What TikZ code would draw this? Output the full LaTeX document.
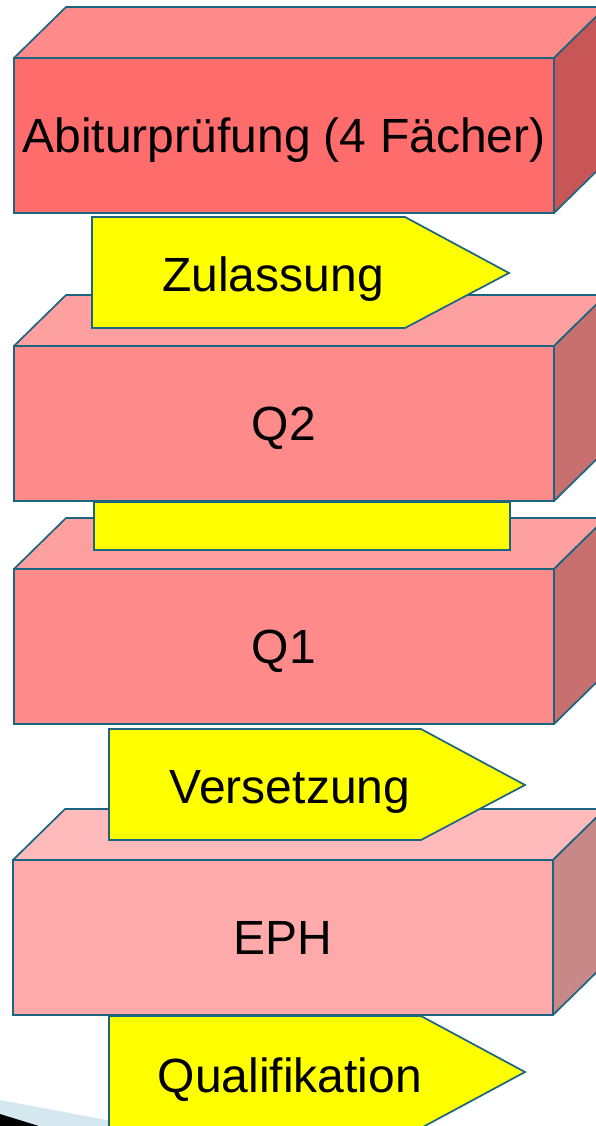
\documentclass[tikz,border=0pt]{standalone}
\usepackage{fontspec}
\setmainfont{Liberation Sans}
\definecolor{edge}{RGB}{26,101,128}
\definecolor{abiF}{HTML}{FF6C6C}
\definecolor{abiT}{HTML}{FF8A8A}
\definecolor{abiS}{HTML}{C95656}
\definecolor{qF}{HTML}{FF8A8A}
\definecolor{qT}{HTML}{FFA0A0}
\definecolor{qS}{HTML}{C87070}
\definecolor{ephF}{HTML}{FFAAAA}
\definecolor{ephT}{HTML}{FFBBBB}
\definecolor{ephS}{HTML}{C88888}
\definecolor{deco}{HTML}{D5E8F0}
\definecolor{flagY}{RGB}{255,255,0}
\tikzset{
  frontface/.style={draw=edge, line width=1.7pt, rectangle, inner sep=0pt, outer sep=0pt,
    minimum width=540pt, minimum height=155pt, anchor=north west},
  face/.style={draw=edge, line width=1.7pt, line join=round},
  flag/.style={draw=edge, line width=1.7pt, fill=flagY, line join=miter},
  lbl/.style={inner sep=0pt, anchor=base, font=\fontsize{48}{58}\selectfont, text=black},
}
\newcommand\quaderbox[7]{%
  \node[frontface, fill=#4] (#1) at (#2,#3) {};
  \filldraw[face, fill=#5] (#1.north west) -- ++(52,-51) -- ++(540,0) -- (#1.north east) -- cycle;
  \filldraw[face, fill=#6] (#1.north east) -- ++(52,-51) -- ++(0,155) -- (#1.south east) -- cycle;
  \node[lbl] (#1t) at ([yshift=-17.2pt]#1.center) {#7};
}
\begin{document}
\begin{tikzpicture}[x=1pt,y=-1pt]
\useasboundingbox (0,0) rectangle (596,1126);
\clip (0,0) rectangle (596,1126);
\fill[white] (0,0) rectangle (596,1126);
% decoration bottom left
\fill[deco] (0,1100) -- (160,1130) -- (0,1130) -- cycle;
\fill[black] (0,1114) -- (42,1127) -- (0,1127) -- cycle;
% EPH
\quaderbox{eph}{13}{860}{ephF}{ephT}{ephS}{EPH}
% Qualifikation
\filldraw[flag] (109,1016) -- (421,1016) -- (525,1072) -- (421,1128) -- (109,1128) -- cycle;
\node[lbl] (qual) at (290,1092) {Qualifikation};
% Versetzung
\filldraw[flag] (109,729) -- (421,729) -- (525,785) -- (421,840) -- (109,840) -- cycle;
\node[lbl] (vers) at (290,803) {Versetzung};
% Q1
\quaderbox{qone}{14}{569}{qF}{qT}{qS}{Q1}
% yellow bar
\node[draw=edge, line width=1.7pt, fill=flagY, inner sep=0pt, outer sep=0pt, anchor=north west,
  minimum width=416pt, minimum height=48pt] (bar) at (94,502) {};
% Q2
\quaderbox{qtwo}{14}{346}{qF}{qT}{qS}{Q2}
% Zulassung
\filldraw[flag] (92,217) -- (405,217) -- (509,273) -- (405,328) -- (92,328) -- cycle;
\node[lbl] (zul) at (273,291) {Zulassung};
% Abitur
\quaderbox{abi}{14}{58}{abiF}{abiT}{abiS}{Abiturprüfung (4 Fächer)}
\end{tikzpicture}
\end{document}
